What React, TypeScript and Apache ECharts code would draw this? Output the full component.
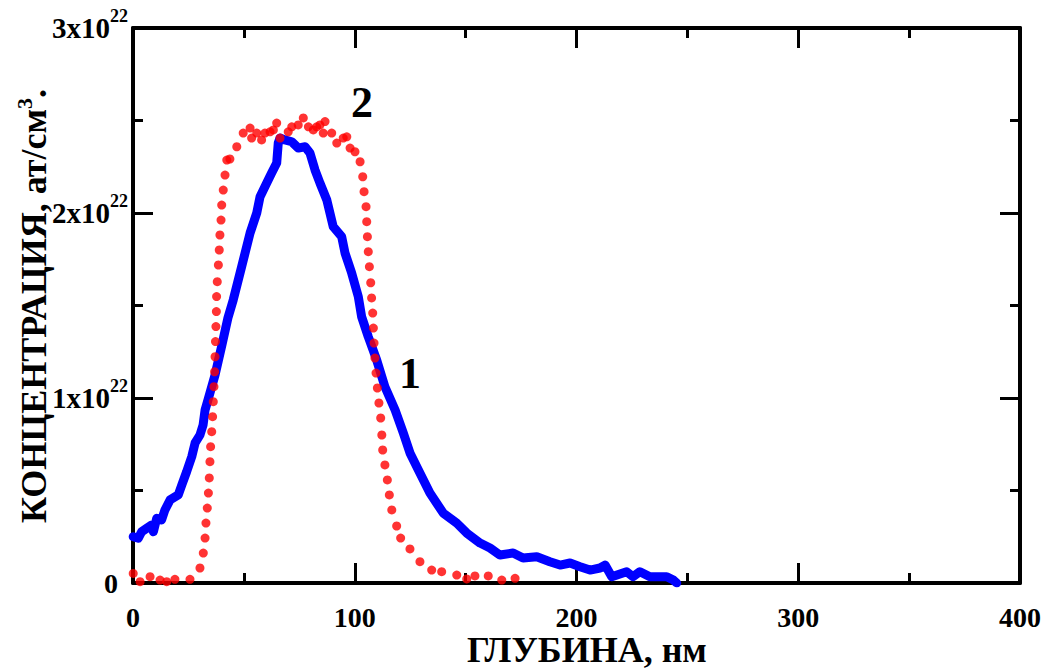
import React, { useEffect, useRef } from "react";
import * as echarts from "echarts";

// Curve 1 (blue, solid): depth, nm / concentration, 1e22 at/cm3
const blueDepth = [0.1, 2.4, 3.9, 6.2, 8.4, 9.2, 10.7, 12.9, 14.4, 16.7, 20.4, 22.0, 24.2, 26.5, 28.0, 30.2, 31.6, 32.5, 33.8, 37.0, 40.1, 42.8, 45.2, 49.0, 52.8, 55.8, 57.3, 60.3, 62.5, 64.8, 65.5, 66.3, 68.5, 71.6, 74.5, 77.6, 79.8, 82.1, 84.3, 87.4, 90.3, 94.1, 95.6, 98.6, 101.6, 103.1, 106.1, 109.9, 113.6, 118.2, 121.9, 124.9, 128.7, 133.9, 139.9, 146.0, 150.5, 156.5, 161.0, 165.5, 171.4, 175.9, 182.1, 188.0, 192.6, 197.1, 201.6, 206.1, 210.6, 212.9, 215.9, 222.6, 225.5, 228.6, 233.1, 237.6, 240.7, 243.7, 245.2];
const blueConc = [0.25, 0.242, 0.277, 0.296, 0.314, 0.277, 0.35, 0.341, 0.395, 0.449, 0.476, 0.53, 0.602, 0.683, 0.757, 0.8, 0.854, 0.935, 0.989, 1.124, 1.286, 1.432, 1.53, 1.71, 1.892, 2.0, 2.088, 2.162, 2.216, 2.27, 2.378, 2.405, 2.395, 2.385, 2.351, 2.358, 2.324, 2.232, 2.162, 2.07, 1.926, 1.872, 1.784, 1.676, 1.548, 1.439, 1.331, 1.205, 1.061, 0.935, 0.811, 0.703, 0.611, 0.486, 0.378, 0.324, 0.27, 0.216, 0.189, 0.151, 0.162, 0.135, 0.142, 0.115, 0.097, 0.108, 0.088, 0.07, 0.081, 0.097, 0.034, 0.061, 0.034, 0.061, 0.034, 0.034, 0.034, 0.016, 0.0];

// Curve 2 (red, dotted)
const redDepth = [0.1, 3.2, 7.7, 12.2, 15.2, 18.9, 25.7, 30.2, 31.7, 32.5, 32.9, 33.5, 34.0, 34.4, 34.7, 35.0, 35.5, 35.9, 36.2, 36.5, 36.8, 37.0, 37.2, 37.4, 37.6, 37.7, 38.0, 38.5, 38.9, 39.2, 39.7, 40.0, 40.7, 41.5, 42.3, 43.7, 46.8, 49.7, 52.8, 53.5, 55.8, 58.0, 59.5, 61.8, 63.3, 64.8, 66.3, 70.0, 71.6, 74.5, 76.8, 79.1, 81.3, 82.8, 84.3, 85.8, 86.6, 89.6, 91.9, 94.8, 96.4, 97.9, 100.1, 102.4, 103.6, 104.2, 105.1, 105.4, 105.7, 106.1, 106.6, 107.2, 107.6, 108.1, 108.4, 108.7, 109.1, 109.6, 110.2, 110.9, 111.7, 112.2, 112.6, 113.6, 114.7, 115.6, 116.7, 118.9, 120.7, 124.9, 129.4, 134.7, 139.2, 146.0, 150.5, 154.2, 160.2, 166.3, 172.3];
const redConc = [0.052, 0.007, 0.034, 0.016, 0.007, 0.02, 0.02, 0.081, 0.162, 0.243, 0.324, 0.405, 0.486, 0.568, 0.656, 0.737, 0.818, 0.899, 0.98, 1.061, 1.142, 1.223, 1.305, 1.386, 1.467, 1.548, 1.629, 1.719, 1.8, 1.881, 1.962, 2.043, 2.124, 2.205, 2.286, 2.292, 2.358, 2.432, 2.459, 2.405, 2.432, 2.395, 2.432, 2.439, 2.449, 2.486, 2.405, 2.439, 2.466, 2.476, 2.514, 2.466, 2.449, 2.466, 2.476, 2.432, 2.494, 2.432, 2.378, 2.405, 2.412, 2.351, 2.331, 2.277, 2.196, 2.115, 2.034, 1.953, 1.872, 1.791, 1.71, 1.623, 1.541, 1.459, 1.378, 1.297, 1.216, 1.135, 1.054, 0.973, 0.892, 0.8, 0.719, 0.638, 0.557, 0.476, 0.395, 0.308, 0.243, 0.184, 0.115, 0.07, 0.061, 0.043, 0.022, 0.038, 0.038, 0.016, 0.025];

const xTicks = [0, 100, 200, 300, 400];
const yTicks = [0, 1, 2, 3]; // ×10^22

const xTitle = "ГЛУБИНА, нм";
const yTitleMain = "КОНЦЕНТРАЦИЯ, ат/см";

const FONT = "'Liberation Serif', 'Times New Roman', serif";

export default function App() {
  const ref = useRef<HTMLDivElement>(null);

  useEffect(() => {
    if (!ref.current) return;
    const chart = echarts.init(ref.current, undefined, { renderer: "svg" });
    const blueData = blueDepth.map((d, i) => [d, blueConc[i]]);
    const redData = redDepth.map((d, i) => [d, redConc[i]]);

    const axisLine = { show: true, onZero: false, lineStyle: { color: "#000", width: 4 } };
    const axisTick = { show: true, inside: true, length: 20, lineStyle: { color: "#000", width: 3 } };
    const minorTick = { show: true, splitNumber: 2, length: 10, lineStyle: { color: "#000", width: 3 } };

    const xBase = {
      type: "value" as const,
      min: xTicks[0],
      max: xTicks[xTicks.length - 1],
      interval: 100,
      axisLine,
      axisTick,
      minorTick,
      splitLine: { show: false },
    };
    const yBase = {
      type: "value" as const,
      min: yTicks[0],
      max: yTicks[yTicks.length - 1],
      interval: 1,
      axisLine,
      axisTick,
      minorTick,
      splitLine: { show: false },
    };

    chart.setOption({
      animation: false,
      backgroundColor: "#fff",
      grid: { left: 133, right: 26, top: 28, bottom: 86, containLabel: false, outerBoundsMode: "none" },
      xAxis: [
        {
          ...xBase,
          position: "bottom",
          axisLabel: {
            margin: 20,
            fontFamily: FONT,
            fontWeight: "bold",
            fontSize: 28,
            color: "#000",
          },
        },
        { ...xBase, position: "top", axisLabel: { show: false } },
      ],
      yAxis: [
        {
          ...yBase,
          position: "left",
          axisLabel: {
            margin: 5,
            color: "#000",
            formatter: (v: number) => (v === 0 ? "{z|0}" : `{b|${v}x10}{s|22}`),
            rich: {
              z: { fontFamily: FONT, fontWeight: "bold", fontSize: 28, color: "#000", padding: [0, 10, 0, 0] },
              b: { fontFamily: FONT, fontWeight: "bold", fontSize: 29, color: "#000" },
              s: { fontFamily: FONT, fontWeight: "bold", fontSize: 18, color: "#000", padding: [0, 0, 24, 0] },
            },
          },
        },
        { ...yBase, position: "right", axisLabel: { show: false } },
      ],
      series: [
        {
          name: "1",
          type: "line",
          xAxisIndex: 0,
          yAxisIndex: 0,
          data: blueData,
          showSymbol: false,
          lineStyle: { color: "#0000ff", width: 9, join: "round", cap: "round" },
          itemStyle: { color: "#0000ff" },
          z: 2,
        },
        {
          name: "2",
          type: "scatter",
          xAxisIndex: 0,
          yAxisIndex: 0,
          data: redData,
          symbol: "circle",
          symbolSize: 9,
          itemStyle: { color: "#ff0000" },
          z: 3,
        },
      ],
      graphic: [
        {
          type: "text",
          x: 587,
          y: 650,
          style: {
            text: xTitle,
            fontFamily: FONT,
            fontWeight: "bold",
            fontSize: 36,
            fill: "#000",
            align: "center",
            verticalAlign: "middle",
          },
        },
        {
          type: "text",
          x: 34,
          y: 306,
          rotation: Math.PI / 2,
          style: {
            text: `{a|${yTitleMain}}{s|3}{a|.}`,
            fontFamily: FONT,
            fontWeight: "bold",
            fontSize: 36,
            fill: "#000",
            align: "center",
            verticalAlign: "middle",
            rich: {
              a: { fontFamily: FONT, fontWeight: "bold", fontSize: 36, fill: "#000" },
              s: { fontFamily: FONT, fontWeight: "bold", fontSize: 22, fill: "#000", padding: [0, 0, 20, 0] },
            },
          },
        },
        {
          type: "text",
          x: 410,
          y: 373,
          style: { text: "1", fontFamily: FONT, fontWeight: "bold", fontSize: 44, fill: "#000", align: "center", verticalAlign: "middle" },
        },
        {
          type: "text",
          x: 362,
          y: 102,
          style: { text: "2", fontFamily: FONT, fontWeight: "bold", fontSize: 44, fill: "#000", align: "center", verticalAlign: "middle" },
        },
      ],
    });
    return () => chart.dispose();
  }, []);

  return (
    <div
      ref={ref}
      style={{ position: "fixed", left: 0, top: 0, width: 1046, height: 669, background: "#fff" }}
    />
  );
}
